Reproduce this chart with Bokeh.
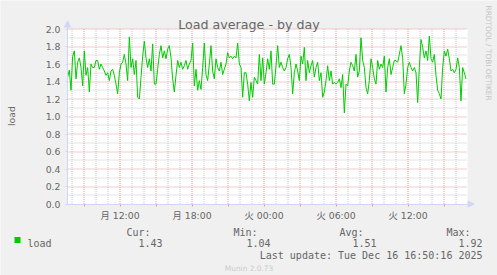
import numpy as np
import pandas as pd
from bokeh.plotting import figure
from bokeh.models import (Range1d, FixedTicker, PrintfTickFormatter, Label,
                          Arrow, NormalHead, BoxAnnotation)
from bokeh.embed import file_html
from bokeh.resources import INLINE

# ---------------- data ----------------
title_text = "Load average - by day"
series_name = "load"
y_label = "load"
last_time = "2025-12-16 16:50"
step_seconds = 500

load = [
    1.45, 1.53, 1.30, 1.69, 1.75, 1.43, 1.62, 1.67, 1.56, 1.35,
    1.75, 1.47, 1.56, 1.28, 1.60, 1.56, 1.56, 1.64, 1.64, 1.54,
    1.60, 1.56, 1.52, 1.47, 1.50, 1.41, 1.52, 1.54, 1.47, 1.37,
    1.26, 1.50, 1.60, 1.62, 1.71, 1.60, 1.41, 1.91, 1.56, 1.66,
    1.48, 1.64, 1.22, 1.20, 1.45, 1.69, 1.86, 1.67, 1.56, 1.66,
    1.52, 1.83, 1.37, 1.37, 1.54, 1.71, 1.81, 1.67, 1.75, 1.66,
    1.77, 1.81, 1.67, 1.43, 1.28, 1.47, 1.64, 1.56, 1.62, 1.54,
    1.58, 1.64, 1.54, 1.60, 1.64, 1.84, 1.35, 1.54, 1.30, 1.41,
    1.31, 1.56, 1.84, 1.48, 1.41, 1.60, 1.81, 1.52, 1.43, 1.66,
    1.56, 1.52, 1.62, 1.48, 1.54, 1.60, 1.73, 1.67, 1.69, 1.66,
    1.69, 1.67, 1.84, 1.60, 1.56, 1.22, 1.50, 1.50, 1.37, 1.18,
    1.39, 1.22, 1.45, 1.41, 1.37, 1.71, 1.41, 1.67, 1.37, 1.50,
    1.66, 1.54, 1.75, 1.37, 1.37, 1.58, 1.81, 1.56, 1.62, 1.56,
    1.52, 1.56, 1.66, 1.71, 1.56, 1.26, 1.50, 1.60, 1.52, 1.41,
    1.69, 1.60, 1.79, 1.41, 1.64, 1.50, 1.58, 1.64, 1.45, 1.56,
    1.62, 1.41, 1.50, 1.22, 1.28, 1.41, 1.58, 1.41, 1.52, 1.37,
    1.39, 1.37, 1.39, 1.43, 1.33, 1.48, 1.04, 1.37, 1.35, 1.52,
    1.62, 1.58, 1.52, 1.71, 1.45, 1.52, 1.90, 1.64, 1.56, 1.33,
    1.26, 1.41, 1.66, 1.56, 1.43, 1.37, 1.64, 1.54, 1.60, 1.56,
    1.69, 1.28, 1.56, 1.66, 1.48, 1.56, 1.64, 1.64, 1.62, 1.71,
    1.81, 1.67, 1.26, 1.37, 1.56, 1.62, 1.56, 1.52, 1.56, 1.50,
    1.16, 1.56, 1.88, 1.79, 1.67, 1.75, 1.64, 1.92, 1.66, 1.62,
    1.71, 1.47, 1.30, 1.26, 1.20, 1.56, 1.75, 1.69, 1.77, 1.66,
    1.52, 1.54, 1.50, 1.54, 1.67, 1.56, 1.18, 1.56, 1.50, 1.43,
]

x_tick_hours = [12, 18, 24, 30, 36]          # hours since Mon 00:00
x_tick_labels = ["月 12:00", "月 18:00", "火 00:00", "火 06:00", "火 12:00"]
y_ticks = [0.0, 0.2, 0.4, 0.6, 0.8, 1.0, 1.2, 1.4, 1.6, 1.8, 2.0]
y_minor = [0.1, 0.3, 0.5, 0.7, 0.9, 1.1, 1.3, 1.5, 1.7, 1.9]
x_major_grid = [9, 12, 15, 18, 21, 24, 27, 30, 33, 36, 39]
x_minor_grid = [8, 10, 11, 13, 14, 16, 17, 19, 20, 22, 23, 25, 26, 28, 29,
                31, 32, 34, 35, 37, 38, 40]

stat_names = ["Cur:", "Min:", "Avg:", "Max:"]
stat_values = ["1.43", "1.04", "1.51", "1.92"]
last_update = "Last update: Tue Dec 16 16:50:16 2025"
watermark = "RRDTOOL / TOBI OETIKER"
footer = "Munin 2.0.73"

day0 = pd.Timestamp("2025-12-15 00:00")
times = pd.date_range(end=last_time, periods=len(load), freq=f"{step_seconds}s")
hours = np.asarray((times - day0) / pd.Timedelta(hours=1))

# ---------------- layout (the frame covers the whole canvas) ----------------
W, H = 497, 275
FL, FR, FB = 67, 467, 203.5               # graph area in page pixels
PX_PER_H = 12.0
PX_PER_UNIT = 87.5
X0 = 7.625
X1 = X0 + (FR - FL) / PX_PER_H
Y0, Y1 = 0.0, 2.0

def X(px):
    return X0 + (px - FL) / PX_PER_H

def Y(py):
    return (FB - py) / PX_PER_UNIT

def snap_y(v):
    py = FB - v * PX_PER_UNIT
    return Y(np.floor(py) + 0.5)

FONT = "DejaVu Sans, Noto Sans CJK JP"
MONO = "DejaVu Sans Mono"
FG = "#666666"
AXIS = "#CFD6F8"
MGRID = "#e49a9a"
GRID = "#c8c8c8"
BACK = "#F0F0F0"

p = figure(width=W, height=H, output_backend="svg", toolbar_location=None,
           x_range=Range1d(X(0), X(W)), y_range=Range1d(Y(H), Y(0)),
           min_border=0, background_fill_color=BACK, border_fill_color=BACK,
           outline_line_color=None, title=None)
p.xgrid.visible = False
p.ygrid.visible = False

# white canvas of the graph
p.add_layout(BoxAnnotation(left=X0, right=X1, bottom=Y0, top=Y1,
                           fill_color="#FFFFFF", fill_alpha=1.0,
                           line_color=None, level="underlay"))

# grid lines (minor first, then major)
ymin_s = [snap_y(v) for v in y_minor]
ymaj_s = [snap_y(v) for v in y_ticks[1:]]
p.segment(x0=x_minor_grid, x1=x_minor_grid, y0=[Y0] * len(x_minor_grid),
          y1=[Y1] * len(x_minor_grid), line_color=GRID, line_width=1,
          line_dash="1 1")
p.segment(x0=[X0] * len(ymin_s), x1=[X1] * len(ymin_s), y0=ymin_s,
          y1=ymin_s, line_color=GRID, line_width=1, line_dash="1 1")
p.segment(x0=x_major_grid, x1=x_major_grid, y0=[Y0] * len(x_major_grid),
          y1=[Y1] * len(x_major_grid), line_color=MGRID, line_width=1,
          line_dash="1 1")
p.segment(x0=[X0] * len(ymaj_s), x1=[X1] * len(ymaj_s), y0=ymaj_s,
          y1=ymaj_s, line_color=MGRID, line_width=1, line_dash="1 1")

# x axis (drawn at y = 0 inside the frame)
xa = p.xaxis[0]
xa.fixed_location = Y0
xa.bounds = (X0, X1)
xa.ticker = FixedTicker(ticks=x_tick_hours, minor_ticks=[9, 15, 21, 27, 33, 39])
xa.major_label_overrides = {h: t for h, t in zip(x_tick_hours, x_tick_labels)}
xa.axis_line_color = AXIS
xa.major_tick_line_color = MGRID
xa.minor_tick_line_color = MGRID
xa.major_tick_in = 0
xa.major_tick_out = 2
xa.minor_tick_in = 0
xa.minor_tick_out = 2
xa.major_label_standoff = 4
xa.major_label_text_font = FONT
xa.major_label_text_font_size = "9.33px"
xa.major_label_text_color = FG

# y axis (drawn at the left edge of the graph)
ya = p.yaxis[0]
ya.fixed_location = X0
ya.bounds = (Y0, Y1)
ya.ticker = FixedTicker(ticks=y_ticks, minor_ticks=[])
ya.formatter = PrintfTickFormatter(format="%.1f")
ya.axis_line_color = AXIS
ya.major_tick_line_color = AXIS
ya.major_tick_in = 0
ya.major_tick_out = 2
ya.major_label_standoff = 5
ya.major_label_text_font = FONT
ya.major_label_text_font_size = "9.33px"
ya.major_label_text_color = FG

# data line
p.line(hours, load, line_color="#00CC00", line_width=1)

# axis arrows
p.add_layout(Arrow(end=NormalHead(size=6, fill_color=AXIS, line_color=AXIS),
                   x_start=X0, y_start=Y1, x_end=X0, y_end=Y(20.5),
                   line_color=AXIS))
p.add_layout(Arrow(end=NormalHead(size=6, fill_color=AXIS, line_color=AXIS),
                   x_start=X1, y_start=Y0, x_end=X(473.5), y_end=Y0,
                   line_color=AXIS))

def add_text(px, py, text, font=MONO, size="10px", color=FG, align="left",
             baseline="alphabetic", angle=0.0):
    p.add_layout(Label(x=X(px), y=Y(py), text=text, text_font=font,
                       text_font_size=size, text_color=color,
                       text_align=align, text_baseline=baseline, angle=angle))

# title, vertical label, watermark
add_text(248.5, 24, title_text, font=FONT, size="12.67px", align="center")
add_text(10.5, 115.5, y_label, font=FONT, size="9.33px", align="center",
         baseline="middle", angle=np.pi / 2)
add_text(487.5, 5, watermark, font=FONT, size="7.4px", color="#c4c4c4",
         baseline="middle", angle=-np.pi / 2)

# legend
p.add_layout(BoxAnnotation(left=X(14), right=X(20), top=Y(236.5), bottom=Y(242.5),
                           fill_color="#00CC00", fill_alpha=1.0, line_color=None))
add_text(27, 242.5, series_name)
name_right = [150, 257, 363, 470]
value_right = [162, 270, 376, 482]
for nm, vl, nr, vr in zip(stat_names, stat_values, name_right, value_right):
    add_text(nr, 231.5, nm, align="right")
    add_text(vr, 242.5, vl, align="right")
add_text(482, 255, last_update, align="right")
add_text(248.5, 267.5, footer, font=FONT, size="7.4px", color="#cccccc",
         align="center")

open("out.html", "w").write(file_html(p, INLINE))
